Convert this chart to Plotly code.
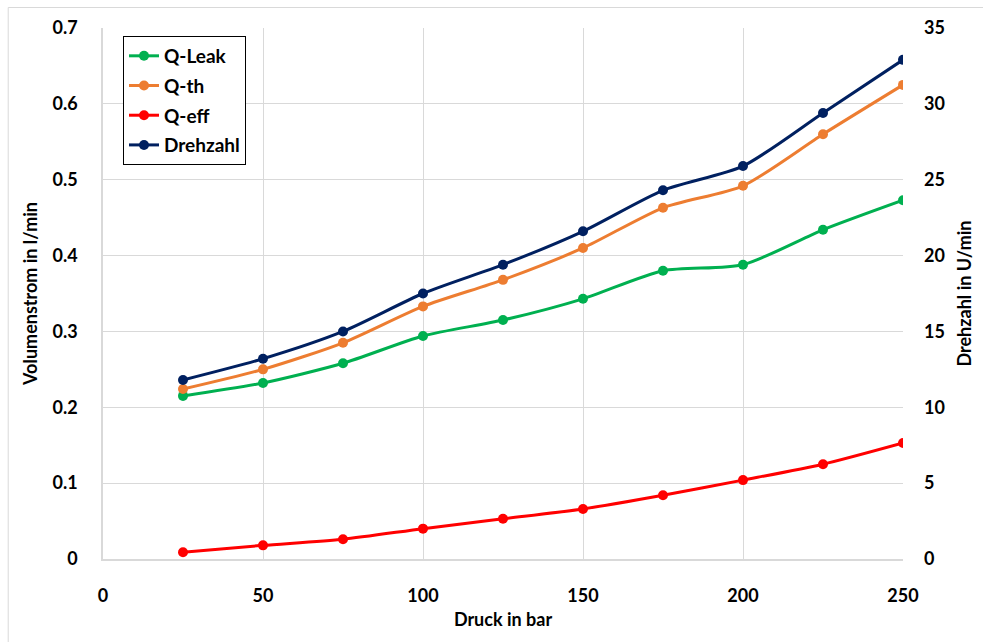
import plotly.graph_objects as go

druck = [25, 50, 75, 100, 125, 150, 175, 200, 225, 250]
q_leak = [0.215, 0.232, 0.258, 0.294, 0.315, 0.343, 0.380, 0.388, 0.434, 0.473]
q_th = [0.224, 0.250, 0.285, 0.333, 0.368, 0.410, 0.463, 0.492, 0.560, 0.625]
q_eff = [0.009, 0.018, 0.026, 0.040, 0.053, 0.066, 0.084, 0.104, 0.125, 0.153]
drehzahl = [11.8, 13.2, 15.0, 17.5, 19.4, 21.6, 24.3, 25.9, 29.4, 32.9]

FONT = "Lato"
fig = go.Figure()

def add(y, name, color, yaxis="y"):
    fig.add_trace(go.Scatter(
        x=druck, y=y, name=name, mode="lines+markers", yaxis=yaxis,
        legendgroup=name,
        line=dict(color=color, width=3, shape="spline", smoothing=0.7),
        marker=dict(color=color, size=10),
    ))

add(q_leak, "Q-Leak", "#00B050")
add(q_th, "Q-th", "#ED7D31")
add(q_eff, "Q-eff", "#FF0000")
add(drehzahl, "Drehzahl", "#002060", yaxis="y2")

tickfont = dict(family=FONT, size=18, color="black", weight="bold")
titlefont = dict(family=FONT, size=18, color="black", weight="bold")

W, H = 983, 642
L, T = 103, 28
PW, PH = 806, 531

fig.update_layout(
    width=W, height=H,
    margin=dict(l=L, r=W - L - PW, t=T, b=H - T - PH),
    paper_bgcolor="white", plot_bgcolor="white",
    showlegend=True,
    legend=dict(
        x=0.025, y=0.985, xanchor="left", yanchor="top",
        bgcolor="white", bordercolor="black", borderwidth=1,
        font=dict(family=FONT, size=19, color="black", weight="bold"),
        itemwidth=30, tracegroupgap=2,
    ),
    xaxis=dict(
        range=[0, 250], dtick=50, tick0=0,
        showgrid=True, gridcolor="#D9D9D9", gridwidth=1,
        showline=True, linecolor="#D9D9D9", linewidth=1.5,
        zeroline=False, ticks="", ticklabelstandoff=20,
        tickfont=tickfont,
        title=dict(text="Druck in bar", font=titlefont, standoff=8),
    ),
    yaxis=dict(
        range=[0, 0.7], dtick=0.1, tick0=0,
        showgrid=True, gridcolor="#D9D9D9", gridwidth=1,
        showline=True, linecolor="#D9D9D9", linewidth=1.5,
        zeroline=False, ticks="", ticklabelstandoff=20,
        tickfont=tickfont,
        title=dict(text="Volumenstrom in l/min", font=titlefont, standoff=10),
    ),
    yaxis2=dict(
        range=[0, 35], dtick=5, tick0=0, overlaying="y", side="right",
        showgrid=False, showline=False, zeroline=False,
        ticks="", ticklabelstandoff=20,
        tickfont=tickfont,
        title=dict(text="Drehzahl in U/min", font=titlefont, standoff=14),
    ),
    shapes=[dict(type="rect", xref="paper", yref="paper",
                 x0=(7.5 - L) / PW, x1=(W + 20 - L) / PW,
                 y0=-0.3, y1=(PH + T - 7.5) / PH,
                 line=dict(color="#D9D9D9", width=1), layer="below")],
)

fig.write_html("out.html", config={"displayModeBar": False},
               post_script="document.body.style.margin='0';")
